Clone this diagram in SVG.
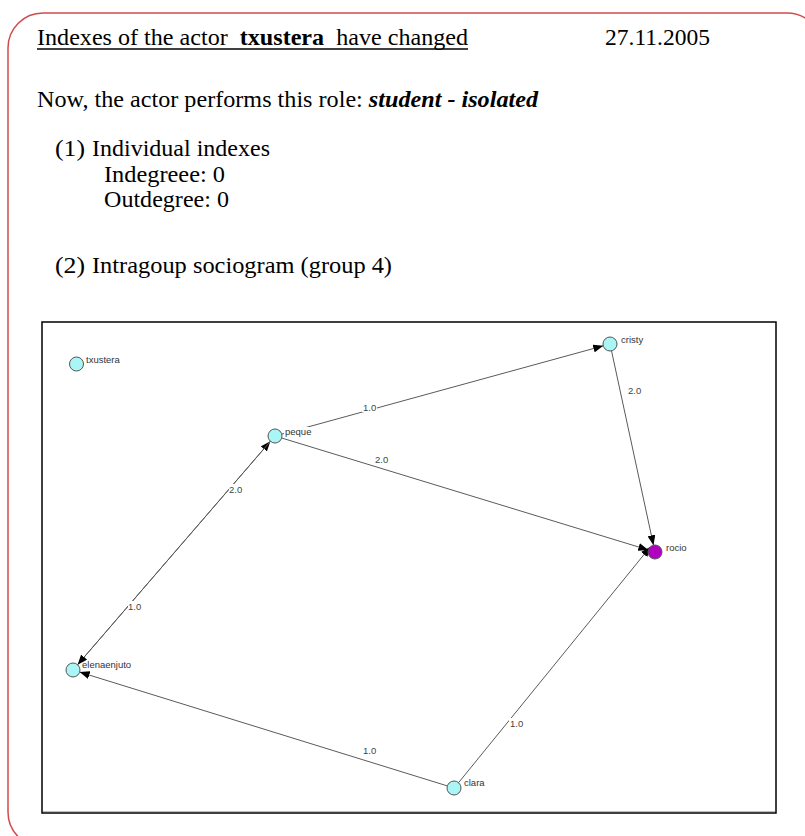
<svg xmlns="http://www.w3.org/2000/svg" width="805" height="836" viewBox="0 0 805 836">
<defs>
<style>
.t{font-family:"Liberation Serif","Times New Roman",serif;font-size:22.5px;fill:#000}
.nl{font-family:"Liberation Sans",Arial,sans-serif;font-size:9.5px;fill:#333}
.el{font-family:"Liberation Sans",Arial,sans-serif;font-size:9.5px;fill:#444}
.edge{stroke:#5a5a5a;stroke-width:1;fill:none;marker-end:url(#ah)}
.node{fill:#aaf6f6;stroke:#555;stroke-width:1}
.bg{fill:#fff}
</style>
<marker id="ah" viewBox="0 0 10 8" refX="10" refY="4" markerWidth="10" markerHeight="8" markerUnits="userSpaceOnUse" orient="auto">
<path d="M0,0 L10,4 L0,8 Z" fill="#000"/>
</marker>
</defs>
<rect width="805" height="836" fill="#fff"/>
<rect x="8" y="13" width="814" height="834" rx="35" ry="35" fill="none" stroke="#d24a4a" stroke-width="1.5"/>
<g id="header">
<text class="t" x="37" y="45" textLength="431" lengthAdjust="spacingAndGlyphs" xml:space="preserve">Indexes of the actor  <tspan font-weight="bold">txustera</tspan>  have changed</text>
<line x1="37" y1="49" x2="468" y2="49" stroke="#000" stroke-width="1.5"/>
<text class="t" x="605" y="45" textLength="105" lengthAdjust="spacingAndGlyphs">27.11.2005</text>
<text class="t" x="37" y="107" textLength="501" lengthAdjust="spacingAndGlyphs">Now, the actor performs this role: <tspan font-weight="bold" font-style="italic">student - isolated</tspan></text>
<text class="t" x="55" y="156" textLength="30" lengthAdjust="spacingAndGlyphs">(1)</text>
<text class="t" x="92" y="156" textLength="178" lengthAdjust="spacingAndGlyphs">Individual indexes</text>
<text class="t" x="104" y="182" textLength="121" lengthAdjust="spacingAndGlyphs">Indegreee: 0</text>
<text class="t" x="104" y="207" textLength="125" lengthAdjust="spacingAndGlyphs">Outdegree: 0</text>
<text class="t" x="55" y="273" textLength="30" lengthAdjust="spacingAndGlyphs">(2)</text>
<text class="t" x="92" y="273" textLength="300" lengthAdjust="spacingAndGlyphs">Intragoup sociogram (group 4)</text>
</g>
<g id="frame">
<rect x="42" y="322" width="734" height="491" fill="#fff" stroke="#000" stroke-width="1.5"/>
<line x1="43" y1="811.5" x2="775" y2="811.5" stroke="#bbb" stroke-width="1"/>
</g>
<g id="connectors">
<line class="edge" x1="281.75" y1="434.15" x2="603.25" y2="345.85"/>
<line class="edge" x1="281.7" y1="438.0" x2="648.3" y2="549.96"/>
<line class="edge" x1="611.5" y1="350.8" x2="653.5" y2="545.2"/>
<line class="edge" x1="77.6" y1="664.7" x2="270.4" y2="441.3"/>
<line class="edge" x1="270.4" y1="441.3" x2="77.6" y2="664.7"/>
<line class="edge" x1="447.3" y1="785.9" x2="79.7" y2="672.1"/>
<line class="edge" x1="458.55" y1="782.68" x2="650.46" y2="546.67"/>
<g id="edge-labels">
<rect class="bg" x="362" y="402" width="15" height="10"/>
<text class="el" x="363" y="411">1.0</text>
<rect class="bg" x="374" y="454" width="15" height="10"/>
<text class="el" x="375" y="463">2.0</text>
<rect class="bg" x="627" y="385" width="15" height="10"/>
<text class="el" x="628" y="394">2.0</text>
<rect class="bg" x="229" y="484" width="14" height="10"/>
<text class="el" x="229" y="493">2.0</text>
<rect class="bg" x="128" y="601" width="14" height="10"/>
<text class="el" x="128" y="610">1.0</text>
<rect class="bg" x="362" y="745" width="15" height="10"/>
<text class="el" x="363" y="754">1.0</text>
<rect class="bg" x="509" y="718" width="15" height="10"/>
<text class="el" x="510" y="727">1.0</text>
</g>
</g>
<g id="node-txustera">
<circle class="node" cx="76.5" cy="364" r="7"/>
<text class="nl" x="86" y="363">txustera</text>
</g>
<g id="node-peque">
<rect class="bg" x="284" y="427" width="32" height="10"/>
<circle class="node" cx="275" cy="436" r="7"/>
<text class="nl" x="285" y="435">peque</text>
</g>
<g id="node-cristy">
<circle class="node" cx="610" cy="344" r="7"/>
<text class="nl" x="621" y="343">cristy</text>
</g>
<g id="node-rocio">
<circle cx="655" cy="552" r="7" fill="#b000c0" stroke="#555" stroke-width="1"/>
<text class="nl" x="666" y="551">rocio</text>
</g>
<g id="node-elenaenjuto">
<circle class="node" cx="73" cy="670" r="7"/>
<text class="nl" x="82" y="668">elenaenjuto</text>
</g>
<g id="node-clara">
<circle class="node" cx="454" cy="788" r="7"/>
<text class="nl" x="464" y="786">clara</text>
</g>
</svg>
